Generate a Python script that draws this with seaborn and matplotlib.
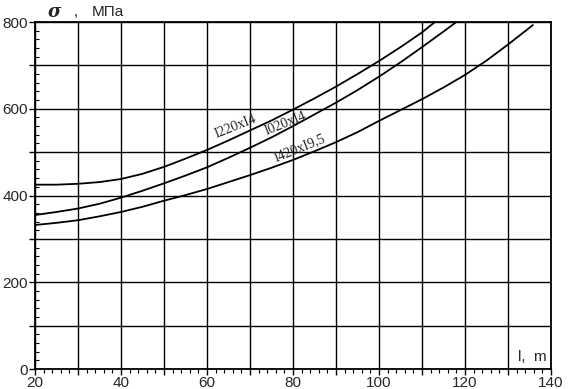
import matplotlib
matplotlib.use('Agg')
import matplotlib.pyplot as plt
from matplotlib.ticker import MultipleLocator, FuncFormatter
import seaborn as sns
import pandas as pd

# curve data: span l (m) vs stress sigma (MPa)
l_1220 = [20, 25, 30, 35, 40, 45, 50, 55, 60, 65, 70, 75, 80, 85, 90, 95, 100, 105, 110, 113]
s_1220 = [425, 425, 427, 431, 438, 450, 466, 485, 505, 527, 550, 573, 598, 624, 651, 680, 710, 742, 776, 800]

l_1020 = [20, 25, 30, 35, 40, 45, 50, 55, 60, 65, 70, 75, 80, 85, 90, 95, 100, 105, 110, 115, 118]
s_1020 = [355, 362, 370, 381, 395, 411, 428, 446, 465, 487, 510, 534, 560, 587, 614, 643, 674, 707, 742, 778, 800]

l_1420 = [20, 25, 30, 35, 40, 45, 50, 55, 60, 65, 70, 75, 80, 85, 90, 95, 100, 105, 110, 115, 120, 125, 130, 135.8]
s_1420 = [332, 337, 343, 352, 362, 374, 388, 401, 415, 431, 447, 464, 482, 502, 523, 546, 572, 597, 622, 649, 678, 711, 748, 793]

names = ['I220xI4', 'I020xI4', 'I420xI9,5']

df = pd.concat([
    pd.DataFrame({'l': l_1220, 's': s_1220, 'pipe': names[0]}),
    pd.DataFrame({'l': l_1020, 's': s_1020, 'pipe': names[1]}),
    pd.DataFrame({'l': l_1420, 's': s_1420, 'pipe': names[2]}),
])

sns.set_style('white')
plt.rcParams['font.family'] = ['Liberation Sans', 'DejaVu Sans']

fig = plt.figure(figsize=(5.68, 3.89), dpi=100)
ax = fig.add_axes([0.0616, 0.0514, 0.9084, 0.8920])

sns.lineplot(data=df, x='l', y='s', units='pipe', estimator=None,
             color='black', lw=1.3, sort=False, ax=ax)

ax.set_xlim(20, 140)
ax.set_ylim(0, 800)
ax.xaxis.set_major_locator(MultipleLocator(10))
ax.yaxis.set_major_locator(MultipleLocator(100))
ax.xaxis.set_minor_locator(MultipleLocator(2))
ax.yaxis.set_minor_locator(MultipleLocator(20))
ax.xaxis.set_major_formatter(FuncFormatter(lambda v, p: f'{v:.0f}' if round(v) % 20 == 0 else ''))
ax.yaxis.set_major_formatter(FuncFormatter(lambda v, p: f'{v:.0f}' if round(v) % 200 == 0 else ''))
ax.tick_params(which='major', length=4, width=1, color='black', labelsize=11, pad=1)
ax.tick_params(which='minor', length=3, width=0.8, color='black', direction='in')
ax.tick_params(axis='x', which='minor', direction='out')
ax.tick_params(bottom=True, left=True, which='both')
ax.grid(True, which='major', color='black', lw=1)
for sp in ax.spines.values():
    sp.set_color('black')
    sp.set_linewidth(1.3)
ax.set_xlabel('')
ax.set_ylabel('')

# curve captions
lab = dict(family=['Liberation Serif', 'DejaVu Serif'], fontsize=10, rotation=22,
           ha='center', va='center')
ax.text(66.7, 560, names[0], **lab)
ax.text(78.2, 565, names[1], **lab)
ax.text(81.5, 510, names[2], **lab)

# axis captions
ax.text(0.025, 1.03, 'σ', transform=ax.transAxes, fontsize=13, style='italic',
        fontweight='bold', family=['DejaVu Serif'], ha='left', va='center')
ax.text(0.075, 1.03, ',', transform=ax.transAxes, fontsize=11, ha='left', va='center')
ax.text(0.11, 1.03, 'МПа', transform=ax.transAxes, fontsize=11, ha='left', va='center')
ax.text(0.936, 0.035, 'l,  m', transform=ax.transAxes, fontsize=11, ha='left', va='center')

fig.savefig('out.png', dpi=100, facecolor='white')
